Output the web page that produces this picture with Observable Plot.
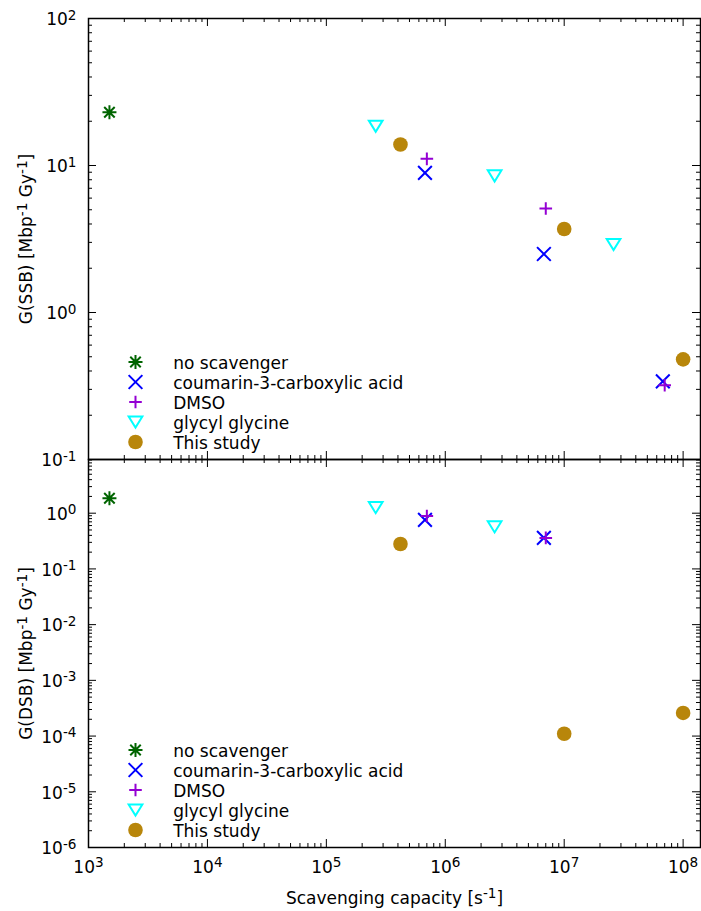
<!DOCTYPE html>
<html>
<head>
<meta charset="utf-8">
<script src="https://cdn.jsdelivr.net/npm/d3@7"></script>
<script src="https://cdn.jsdelivr.net/npm/@observablehq/plot@0.6"></script>
<style>
  body { margin: 0; background: #fff; }
  #chart { position: relative; width: 701px; height: 911px; font-family: "DejaVu Sans", sans-serif; }
</style>
</head>
<body>
<div id="chart"></div>
<script>
// ---------- data ----------
const seriesNames = ["no scavenger", "coumarin-3-carboxylic acid", "DMSO", "glycyl glycine", "This study"];

// G(SSB) panel
const ssbNoScavengerX = [1.5e3];
const ssbNoScavengerY = [23];
const ssbCoumarinX = [6.75e5, 6.75e6, 6.75e7];
const ssbCoumarinY = [8.9, 2.5, 0.34];
const ssbDmsoX = [7e5, 7e6, 7e7];
const ssbDmsoY = [11.1, 5.1, 0.32];
const ssbGlycylX = [2.6e5, 2.6e6, 2.6e7];
const ssbGlycylY = [18.5, 8.5, 2.9];
const ssbStudyX = [4.2e5, 1e7, 1e8];
const ssbStudyY = [13.9, 3.7, 0.48];

// G(DSB) panel
const dsbNoScavengerX = [1.5e3];
const dsbNoScavengerY = [1.86];
const dsbCoumarinX = [6.75e5, 6.75e6];
const dsbCoumarinY = [0.76, 0.36];
const dsbDmsoX = [7e5, 7e6];
const dsbDmsoY = [0.89, 0.36];
const dsbGlycylX = [2.6e5, 2.6e6];
const dsbGlycylY = [1.26, 0.57];
const dsbStudyX = [4.2e5, 1e7, 1e8];
const dsbStudyY = [0.28, 1.1e-4, 2.6e-4];

// axes
const xMajor = [1e3, 1e4, 1e5, 1e6, 1e7, 1e8];
const ssbMajor = [1e-1, 1e0, 1e1, 1e2];
const dsbMajor = [1e-6, 1e-5, 1e-4, 1e-3, 1e-2, 1e-1, 1e0];
const xDomain = [1e3, 1.4e8];
const ssbDomain = [1e-1, 1e2];
const dsbDomain = [1e-6, 9.2];
const xLabel = "Scavenging capacity [s^{-1}]";
const ssbLabel = "G(SSB) [Mbp^{-1} Gy^{-1}]";
const dsbLabel = "G(DSB) [Mbp^{-1} Gy^{-1}]";

// ---------- styles ----------
const colors = ["#006400", "#0000ff", "#9400d3", "#00ffff", "#b8860b"];
const FONT = 17;
const W = 701, ML = 88, MR = 1;

const symAsterisk = { draw(c, size) { const r = Math.sqrt(size / Math.PI); const a = r, b = 0.75 * r;
  c.moveTo(-a, 0); c.lineTo(a, 0); c.moveTo(0, -a); c.lineTo(0, a);
  c.moveTo(-b, -b); c.lineTo(b, b); c.moveTo(-b, b); c.lineTo(b, -b); } };
const symTimes = { draw(c, size) { const r = Math.sqrt(size / Math.PI); const a = 0.98 * r;
  c.moveTo(-a, -a); c.lineTo(a, a); c.moveTo(-a, a); c.lineTo(a, -a); } };
const symPlus = { draw(c, size) { const r = Math.sqrt(size / Math.PI); const a = 0.9 * r;
  c.moveTo(-a, 0); c.lineTo(a, 0); c.moveTo(0, -a); c.lineTo(0, a); } };
const symTriDown = { draw(c, size) { const r = Math.sqrt(size / Math.PI); const w = 0.98 * r, h = 0.8 * r;
  c.moveTo(-w, -h); c.lineTo(w, -h); c.lineTo(0, h); c.closePath(); } };
const symbols = [symAsterisk, symTimes, symPlus, symTriDown, null];

function fmtPow(d) { return `10^{${Math.round(Math.log10(d))}}`; }

function minorsFor(majors, domain) {
  const out = [];
  for (const m of majors) for (let k = 2; k <= 9; k++) {
    const v = m * k;
    if (v >= domain[0] && v <= domain[1]) out.push(v);
  }
  return out;
}

function supify(el) {
  const s = el.textContent;
  if (!s.includes("^{")) return;
  const parts = s.split(/\^\{([^}]*)\}/);
  el.textContent = "";
  const raise = FONT * 0.33;
  let raised = false;
  parts.forEach((p, i) => {
    if (p === "") return;
    const t = document.createElementNS("http://www.w3.org/2000/svg", "tspan");
    t.textContent = p;
    if (i % 2 === 1) {
      t.setAttribute("font-size", (FONT * 0.8) + "px");
      t.setAttribute("dy", (-raise) + "px");
      raised = true;
    } else if (raised) {
      t.setAttribute("dy", raise + "px");
      raised = false;
    }
    el.appendChild(t);
  });
}

function pts(xs, ys) { return xs.map((x, i) => ({ x, y: ys[i] })); }

function buildPanel({ seriesData, yDomain, yMajor, yLabel, top, height, marginTop, marginBottom, showX }) {
  const panelW = W - ML - MR;
  const panelH = height - marginTop - marginBottom;
  const xMinor = minorsFor(xMajor, xDomain);
  const yMinor = minorsFor(yMajor, yDomain);
  const tk = { stroke: "black", strokeWidth: 1 };
  const marks = [
    Plot.tickX(xMajor, { x: d => d, insetTop: panelH - 8, ...tk }),
    Plot.tickX(xMinor, { x: d => d, insetTop: panelH - 4, ...tk }),
    Plot.tickX(xMajor, { x: d => d, insetBottom: panelH - 8, ...tk }),
    Plot.tickX(xMinor, { x: d => d, insetBottom: panelH - 4, ...tk }),
    Plot.tickY(yMajor, { y: d => d, insetRight: panelW - 8, ...tk }),
    Plot.tickY(yMinor, { y: d => d, insetRight: panelW - 4, ...tk }),
    Plot.tickY(yMajor, { y: d => d, insetLeft: panelW - 8, ...tk }),
    Plot.tickY(yMinor, { y: d => d, insetLeft: panelW - 4, ...tk }),
    Plot.frame({ stroke: "black", strokeWidth: 1.5 }),
    Plot.axisY(yMajor, { anchor: "left", tickSize: 0, tickPadding: 12, tickFormat: fmtPow, dy: 1.3, label: null }),
    Plot.text([yLabel], { x: null, y: null, frameAnchor: "left", textAnchor: "middle", lineAnchor: "middle", rotate: -90, dx: -61.7 })
  ];
  if (showX) {
    marks.push(Plot.axisX(xMajor, { anchor: "bottom", tickSize: 0, tickPadding: 13.4, tickFormat: fmtPow, label: null }));
    marks.push(Plot.text([xLabel], { x: null, y: null, frameAnchor: "bottom", textAnchor: "middle", lineAnchor: "middle", dy: 50.6 }));
  }
  seriesData.forEach((d, i) => {
    if (symbols[i]) {
      marks.push(Plot.dot(d, { x: "x", y: "y", symbol: symbols[i], r: 7, stroke: colors[i], strokeWidth: 2, fill: "none" }));
    } else {
      marks.push(Plot.dot(d, { x: "x", y: "y", r: 7.3, fill: colors[i], stroke: "none" }));
    }
  });
  // legend
  seriesNames.forEach((name, i) => {
    const dy = -(17.5 + (seriesNames.length - 1 - i) * 20);
    if (symbols[i]) {
      marks.push(Plot.dot([name], { x: null, y: null, frameAnchor: "bottom-left", dx: 47, dy, symbol: symbols[i], r: 7, stroke: colors[i], strokeWidth: 2, fill: "none" }));
    } else {
      marks.push(Plot.dot([name], { x: null, y: null, frameAnchor: "bottom-left", dx: 47, dy, r: 7.3, fill: colors[i], stroke: "none" }));
    }
    marks.push(Plot.text([name], { x: null, y: null, frameAnchor: "bottom-left", lineAnchor: "middle", dx: 84.7, dy: dy + 1.3, textAnchor: "start", fill: "black" }));
  });

  const svg = Plot.plot({
    width: W, height, marginLeft: ML, marginRight: MR, marginTop, marginBottom,
    x: { type: "log", domain: xDomain, axis: null },
    y: { type: "log", domain: yDomain, axis: null },
    style: { position: "absolute", left: "0px", top: top + "px", background: "transparent", overflow: "visible",
             fontFamily: "'DejaVu Sans', sans-serif", fontSize: FONT + "px", color: "black" },
    marks
  });
  svg.querySelectorAll("text").forEach(supify);
  return svg;
}

const chart = document.getElementById("chart");
chart.appendChild(buildPanel({
  seriesData: [pts(ssbNoScavengerX, ssbNoScavengerY), pts(ssbCoumarinX, ssbCoumarinY), pts(ssbDmsoX, ssbDmsoY), pts(ssbGlycylX, ssbGlycylY), pts(ssbStudyX, ssbStudyY)],
  yDomain: ssbDomain, yMajor: ssbMajor, yLabel: ssbLabel,
  top: 0, height: 460, marginTop: 18, marginBottom: 1, showX: false
}));
chart.appendChild(buildPanel({
  seriesData: [pts(dsbNoScavengerX, dsbNoScavengerY), pts(dsbCoumarinX, dsbCoumarinY), pts(dsbDmsoX, dsbDmsoY), pts(dsbGlycylX, dsbGlycylY), pts(dsbStudyX, dsbStudyY)],
  yDomain: dsbDomain, yMajor: dsbMajor, yLabel: dsbLabel,
  top: 440, height: 471, marginTop: 19, marginBottom: 64, showX: true
}));
</script>
</body>
</html>
